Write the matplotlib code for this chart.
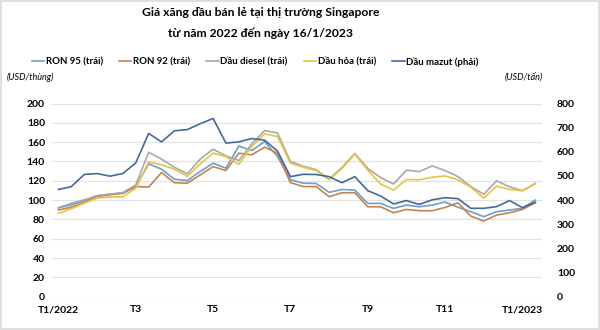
import numpy as np
import matplotlib
matplotlib.use("Agg")
import matplotlib.pyplot as plt
from matplotlib.lines import Line2D

plt.rcParams['font.family'] = ['Lato', 'DejaVu Sans']

# gia ban le, 3 ky moi thang tu T1/2022 den 16/1/2023
ron95 = [92, 95, 99.5, 104.5, 106, 107.5, 114, 137.5, 132, 121.6, 120.2, 129.6, 138.2, 133,
         156, 151.3, 160.6, 145, 121, 117.5, 117.2, 108, 111, 110.3, 96.6, 96.6, 91.4, 94.8,
         93.1, 94.8, 98, 92.6, 88, 82.9, 88, 89.7, 91.5, 100]
ron92 = [89.8, 92.6, 97.8, 103.5, 105.5, 107, 114, 113.5, 128.5, 118, 117.5, 126, 134.7, 130.6,
         148.6, 146.8, 154.8, 148.6, 118.1, 114, 114, 103.5, 107.6, 107.6, 93.1, 93.1, 86.9, 90.3,
         89, 89, 92.4, 97.2, 83.4, 78.3, 84.5, 86.9, 90.3, 97.2]
diesel = [92.2, 96.8, 100.2, 104.7, 106.1, 107.8, 115.7, 149.5, 142.4, 134, 127.2, 142.4, 152.7, 145.8,
          141, 158, 172, 169.5, 140, 135, 131.5, 121.4, 133.8, 148.3, 132.8, 123.4, 116.6, 131,
          129.5, 135.4, 130.6, 124.4, 114, 106, 120, 113.8, 109.7, 117]
kerosene = [86.4, 90.9, 96.8, 102, 103.3, 103.5, 112.3, 139.5, 136.5, 132, 124.5, 137.5, 148.6, 145,
            137, 155.4, 168.6, 165.8, 138.3, 134, 130.5, 121, 132.8, 147.6, 131, 116.6, 110.3, 121.4,
            121, 123.7, 125, 121, 113.3, 102, 114.5, 111, 109.7, 117.5]
mazut = [444, 456, 506, 510, 499, 510, 554, 676, 641, 687, 692, 716, 738, 636, 641, 655, 648, 603,
         497, 507, 506, 497, 472, 497, 439, 417, 384, 398, 382, 401, 410, 406, 366, 366, 373, 398,
         369, 391]

tick_labels = ['T1/2022', 'T3', 'T5', 'T7', 'T9', 'T11', 'T1/2023']
names = ['RON 95 (trái)', 'RON 92 (trái)', 'Dầu diesel (trái)', 'Dầu hỏa (trái)', 'Dầu mazut (phải)']
colors = ['#6b9fcf', '#c8824e', '#a9a9a9', '#e8c443', '#45699b']

x = np.arange(len(mazut))

fig = plt.figure(figsize=(6, 3.3), dpi=100)
ax = fig.add_axes([52 / 600, 1 - 296.7 / 330, (541.7 - 52) / 600, (296.7 - 103.5) / 330])
ax2 = ax.twinx()

lw = 1.2
for ys, c in zip([ron95, ron92, diesel, kerosene], colors[:4]):
    ax.plot(x, ys, color=c, lw=lw, zorder=3)
ax2.plot(x, mazut, color=colors[4], lw=lw, zorder=3)

ax.set_ylim(0, 200)
ax.set_yticks(np.arange(0, 201, 20))
ax2.set_ylim(0, 800)
ax2.set_yticks(np.arange(0, 801, 100))
ax.set_xlim(-0.5, 37.5)
ax.set_xticks(np.arange(0, 37, 6))
ax.set_xticklabels(tick_labels)
ax.grid(axis='y', color='#e3e3e3', lw=0.9, zorder=0)
ax.set_axisbelow(True)

for a in (ax, ax2):
    for s in a.spines.values():
        s.set_visible(False)
    a.tick_params(length=0, labelsize=7.5)
    for lab in a.get_xticklabels() + a.get_yticklabels():
        lab.set_fontweight('bold')
ax.tick_params(axis='y', pad=5)
ax2.tick_params(axis='y', pad=11)
ax.tick_params(axis='x', pad=6)

title_x = 261 / 600
fig.text(title_x, 1 - 13 / 330, 'Giá xăng dầu bán lẻ tại thị trường Singapore',
         ha='center', va='center', fontsize=8.7, fontweight='bold')
fig.text(title_x, 1 - 33 / 330, 'từ năm 2022 đến ngày 16/1/2023',
         ha='center', va='center', fontsize=8.7, fontweight='bold')

handles = [Line2D([], [], color=c, lw=1.2) for c in colors]
leg = fig.legend(handles, names, loc='center', bbox_to_anchor=(255 / 600, 1 - 62 / 330),
                 ncol=5, frameon=False, handlelength=1.3, handletextpad=0.15,
                 columnspacing=1.7, prop={'size': 6.9, 'weight': 'bold'})

fig.text(7 / 600, 1 - 77 / 330, '(USD/thùng)', ha='left', va='center', fontsize=6.5, style='italic')
fig.text(543 / 600, 1 - 77 / 330, '(USD/tấn)', ha='right', va='center', fontsize=6.5, style='italic')

# khung vien mo quanh hinh
fig.patches.append(plt.Rectangle((0.001, 0.002), 0.997, 0.995, transform=fig.transFigure,
                                 fill=False, edgecolor='#d9d9d9', lw=1.2))

fig.savefig('out.png', dpi=100)
